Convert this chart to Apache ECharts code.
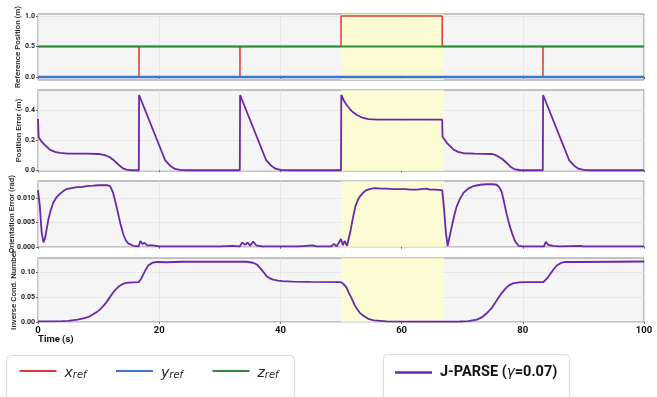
<!DOCTYPE html>
<html><head><meta charset="utf-8">
<script src="https://cdn.jsdelivr.net/npm/echarts@6/dist/echarts.min.js"></script>
<style>html,body{margin:0;padding:0;background:#fff}#c{width:657px;height:397px}</style>
</head><body><div id="c"></div>
<script>
// ---- data ----
const xTicks = [0, 20, 40, 60, 80, 100];
const refTicks = [0, 0.5, 1.0];
const posTicks = [0, 0.2, 0.4];
const oriTicks = [0, 0.005, 0.010];
const condTicks = [0, 0.05, 0.10];
const shadeRange = [50, 67];

const xRefT = [0, 16.66, 16.67, 16.68, 33.32, 33.33, 33.34, 50, 50, 66.7, 66.7, 83.32, 83.33, 83.34, 100];
const xRefV = [0.5, 0.5, 0, 0.5, 0.5, 0, 0.5, 0.5, 1, 1, 0.5, 0.5, 0, 0.5, 0.5];
const yRefT = [0, 100];
const yRefV = [0, 0];
const zRefT = [0, 100];
const zRefV = [0.5, 0.5];

const posErrT = [0, 0.1, 0.6, 1.2, 2, 2.8, 3.6, 5, 8, 10, 11, 11.8, 12.4, 13.2, 14, 14.6, 15.5, 16.64,
  16.68, 21.0, 21.8, 22.6, 23.6, 25, 33.3,
  33.35, 37.67, 38.47, 39.27, 40.27, 41.7, 50.0,
  50.05, 50.5, 51, 51.5, 52, 52.7, 53.5, 54.5, 56, 66.7,
  66.75, 67.5, 68.5, 69.3, 70.2, 72, 75, 75.8, 76.5, 77.3, 78, 78.6, 79.5, 83.3,
  83.35, 87.67, 88.47, 89.27, 90.27, 91.7, 100];
const posErrV = [0.34, 0.22, 0.19, 0.165, 0.135, 0.122, 0.115, 0.111, 0.11, 0.108, 0.1, 0.088, 0.07, 0.04, 0.013, 0.004, 0, 0,
  0.5, 0.065, 0.03, 0.009, 0.001, 0, 0,
  0.5, 0.065, 0.03, 0.009, 0.001, 0, 0,
  0.5, 0.46, 0.43, 0.405, 0.385, 0.365, 0.35, 0.34, 0.336, 0.336,
  0.222, 0.18, 0.14, 0.122, 0.113, 0.11, 0.108, 0.095, 0.078, 0.05, 0.022, 0.008, 0, 0,
  0.5, 0.065, 0.03, 0.009, 0.001, 0, 0];

const oriErrT = [0, 0.3, 0.6, 0.9, 1.2, 1.7, 2.1, 2.5, 3.0, 3.6, 4.2, 4.7, 5.5, 6.4, 7.2, 8.0, 9.1, 10.0, 10.8, 11.5, 11.9,
  12.4, 12.8, 13.2, 13.6, 14.1, 14.5, 14.9, 15.7, 16.6, 16.9, 17.2, 17.6, 18, 19, 20, 22, 25, 28, 30, 32, 33.3, 33.7, 34.2, 34.6,
  35.0, 35.5, 36.0, 37, 40, 43, 45.3, 46, 48.4, 48.8, 49.3, 50.0, 50.3, 50.6, 51.0, 51.2, 51.6, 52.0, 52.4, 52.8, 53.2, 53.7, 54.2,
  55, 55.6, 56.5, 57.5, 58.5, 59.5, 60.5, 61.5, 62.5, 63.2, 64.2, 64.6, 65.5, 66.7, 67.0, 67.3, 67.6, 67.9, 68.3, 68.7, 69.1,
  69.6, 70.2, 71, 71.8, 73, 74, 75, 75.7, 76.1, 76.5, 76.9, 77.3, 77.8, 78.2, 78.7, 79.3, 80, 83.5, 83.8, 84.2, 85, 86, 89.5, 90, 95, 100];
const oriErrV = [0.0118, 0.0085, 0.003, 0.0009, 0.002, 0.0056, 0.0076, 0.0091, 0.0102, 0.011, 0.0116, 0.012, 0.0122, 0.0124, 0.0124, 0.0126, 0.0127, 0.0128, 0.0128, 0.0128, 0.0126,
  0.0112, 0.0092, 0.007, 0.0048, 0.0025, 0.0013, 0.0007, 0.0002, 0.0001, 0.0012, 0.0006, 0.0008, 0.0003, 0.0003, 0.0001, 0.0001, 0.0001, 0.0001, 0.0001, 0.0002, 0.0001, 0.0009, 0.0004, 0.0009,
  0.0002, 0.0011, 0.0003, 0.0001, 0.0001, 0.0001, 0.0003, 0.0001, 0.0001, 0.0006, 0.0001, 0.0016, 0.0003, 0.0012, 0.0002, 0.0005, 0.0035, 0.0062, 0.0085, 0.0098, 0.0106, 0.0113, 0.0118,
  0.0121, 0.0122, 0.0121, 0.0121, 0.012, 0.012, 0.012, 0.0119, 0.0119, 0.012, 0.0121, 0.0119, 0.0119, 0.0118, 0.008, 0.003, 0.0002, 0.002, 0.0043, 0.0066, 0.0084,
  0.0099, 0.0112, 0.0121, 0.0126, 0.0129, 0.013, 0.013, 0.0129, 0.0124, 0.0115, 0.0093, 0.007, 0.0045, 0.0029, 0.0012, 0.0002, 0.0001, 0.0001, 0.001, 0.0004, 0.0002, 0.0001, 0.0002, 0.0001, 0.0001, 0.0001];

const condT = [0, 4, 5, 6.5, 7.5, 8.4, 9.1, 9.7, 10.2, 10.8, 11.3, 11.9, 12.4, 13, 13.5, 14, 14.6, 15.5, 16.6, 17, 17.4, 17.8, 18.2, 18.8, 19.6,
  21.2, 23.9, 30, 34.4, 35.5, 36.1, 36.6, 37.2, 37.7, 38.3, 38.8, 39.6, 40.4, 42, 45, 50, 50.4, 50.9, 51.3, 51.8, 52.2, 52.6, 53.1, 53.7, 54.5,
  55.4, 57.5, 62, 69.6, 71, 72.4, 73.3, 74, 74.9, 75.7, 76.4, 77.1, 77.7, 78.4, 79.4, 80.6, 83.4, 84, 84.5, 85, 85.6, 86.3, 87, 89, 95, 100];
const condV = [0.001, 0.0012, 0.002, 0.0045, 0.0067, 0.01, 0.015, 0.0195, 0.0245, 0.032, 0.0395, 0.05, 0.059, 0.067, 0.0725, 0.076, 0.078, 0.079, 0.0795, 0.086, 0.0955, 0.105, 0.113, 0.118, 0.12,
  0.1195, 0.1205, 0.1205, 0.1205, 0.1185, 0.115, 0.1087, 0.1, 0.092, 0.087, 0.0845, 0.0825, 0.0815, 0.0805, 0.08, 0.0795, 0.076, 0.069, 0.058, 0.046, 0.035, 0.0265, 0.018, 0.012, 0.006,
  0.003, 0.001, 0.0005, 0.0006, 0.0015, 0.0045, 0.0095, 0.0166, 0.028, 0.043, 0.056, 0.066, 0.073, 0.077, 0.079, 0.0795, 0.0795, 0.087, 0.0955, 0.104, 0.113, 0.118, 0.12, 0.12, 0.1205, 0.121];

// ---- chart ----
const zip = (t, v) => t.map((x, i) => [x, v[i]]);
const FONT = "Roboto, 'Liberation Sans', sans-serif";
const C_RED = '#dd3a3a', C_BLUE = '#3a78d0', C_GREEN = '#2e8b3a', C_PURPLE = '#6a28a8';
const JP = 'J-PARSE (γ=0.07)';

const gridTops = [14, 90, 181, 258];
const gridHeights = [66, 81, 66, 64];
const yCfg = [
  { min: -0.05, max: 1.033, ticks: refTicks, dec: 1, name: 'Reference Position (m)', gap: 16 },
  { min: -0.005, max: 0.533, ticks: posTicks, dec: 1, name: 'Position Error (m)', gap: 15 },
  { min: -0.00005, max: 0.01368, ticks: oriTicks, dec: 3, name: 'Orientation Error (rad)', gap: 22.5 },
  { min: -0.0004, max: 0.128, ticks: condTicks, dec: 2, name: 'Inverse Cond. Number', gap: 20 }
];

const grid = gridTops.map((t, i) => ({
  left: 38, right: 13, top: t, height: gridHeights[i], show: true,
  containLabel: false, outerBoundsMode: 'none',
  backgroundColor: '#f5f5f5', borderColor: '#8a8a8a', borderWidth: 1
}));

const xAxis = gridTops.map((t, i) => ({
  type: 'value', gridIndex: i, min: 0, max: 100, interval: 20,
  axisLine: { show: false },
  axisTick: { show: true, length: 2, lineStyle: { color: '#666' } },
  axisLabel: { show: i === 3, margin: 4, fontFamily: FONT, fontSize: 9.5, fontWeight: 'bold', color: '#111' },
  splitLine: { show: true, lineStyle: { color: '#e4e4e4', width: 0.8 } }
}));

const yAxis = yCfg.map((c, i) => ({
  type: 'value', gridIndex: i, min: c.min, max: c.max,
  name: c.name, nameLocation: 'middle', nameGap: c.gap, nameMoveOverlap: false,
  nameTextStyle: { fontFamily: FONT, fontSize: 8, fontWeight: 500, color: '#222' },
  axisLine: { show: false },
  axisTick: { show: true, length: 2, customValues: c.ticks, lineStyle: { color: '#666' } },
  axisLabel: { margin: 3, customValues: c.ticks, fontFamily: FONT, fontSize: 7, fontWeight: 'bold', color: '#222',
    formatter: v => v.toFixed(c.dec) },
  splitLine: { show: true, lineStyle: { color: '#e4e4e4', width: 0.8 } }
}));

const lineBase = (name, data, color, width, idx, z) => ({
  type: 'line', name, data, xAxisIndex: idx, yAxisIndex: idx, showSymbol: false, symbol: 'none',
  lineStyle: { color, width }, itemStyle: { color }, z: z || 3, animation: false, silent: true
});

const series = [];
gridTops.forEach((t, i) => {
  series.push({
    type: 'line', data: [], xAxisIndex: i, yAxisIndex: i, z: 1, silent: true, animation: false,
    markArea: { silent: true, itemStyle: { color: 'rgba(255,255,200,0.72)' },
      data: [[{ xAxis: shadeRange[0] }, { xAxis: shadeRange[1] }]] }
  });
});
series.push(lineBase('x_ref', zip(xRefT, xRefV), C_RED, 1.5, 0));
series.push(lineBase('y_ref', zip(yRefT, yRefV), C_BLUE, 2.5, 0));
series.push(lineBase('z_ref', zip(zRefT, zRefV), C_GREEN, 2, 0));
series.push(lineBase(JP, zip(posErrT, posErrV), C_PURPLE, 1.8, 1));
series.push(lineBase(JP, zip(oriErrT, oriErrV), C_PURPLE, 1.8, 2));
series.push(lineBase(JP, zip(condT, condV), C_PURPLE, 1.8, 3));

const refRich = {
  v: { fontFamily: 'DejaVu Sans', fontStyle: 'italic', fontSize: 14, color: '#222', lineHeight: 18, verticalAlign: 'bottom', padding: [0, 0, 0, 3] },
  s: { fontFamily: 'DejaVu Sans', fontStyle: 'italic', fontSize: 10, color: '#222', lineHeight: 9, verticalAlign: 'bottom' }
};
const refLegend = (name, letter, left) => ({
  left, top: 366, padding: 0, itemWidth: 37, itemHeight: 2, icon: 'rect', selectedMode: false,
  data: [name],
  formatter: () => '{v|' + letter + '}{s|ref}',
  textStyle: { rich: refRich }
});

const legend = [
  refLegend('x_ref', 'x', 19.5),
  refLegend('y_ref', 'y', 116),
  refLegend('z_ref', 'z', 212.5),
  {
    left: 395, top: 365, padding: 0, itemWidth: 37, itemHeight: 2.5, icon: 'rect', selectedMode: false,
    data: [JP],
    formatter: () => '{a|J-PARSE (}{g|γ}{b|=0.07)}',
    textStyle: { rich: {
      a: { fontFamily: FONT, fontWeight: 'bold', fontSize: 14.5, color: '#111', lineHeight: 20, padding: [0, 0, 0, 3] },
      b: { fontFamily: FONT, fontWeight: 'bold', fontSize: 14.5, color: '#111', lineHeight: 20 },
      g: { fontFamily: 'DejaVu Sans', fontStyle: 'italic', fontSize: 13.5, color: '#111', lineHeight: 20 }
    } }
  }
];

const graphic = [
  { type: 'rect', left: 6, top: 355, shape: { width: 288, height: 60, r: 4 }, style: { fill: '#fff', stroke: '#dcdcdc', lineWidth: 1 }, z: -1 },
  { type: 'rect', left: 383, top: 354, shape: { width: 186, height: 60, r: 4 }, style: { fill: '#fff', stroke: '#dcdcdc', lineWidth: 1 }, z: -1 },
  { type: 'text', left: 38, top: 335, style: { text: 'Time (s)', fontFamily: FONT, fontSize: 9.5, fontWeight: 'bold', fill: '#111' } }
];

const chart = echarts.init(document.getElementById('c'), null, { renderer: 'canvas' });
chart.setOption({ animation: false, backgroundColor: '#fff', grid, xAxis, yAxis, series, legend, graphic });
</script></body></html>
